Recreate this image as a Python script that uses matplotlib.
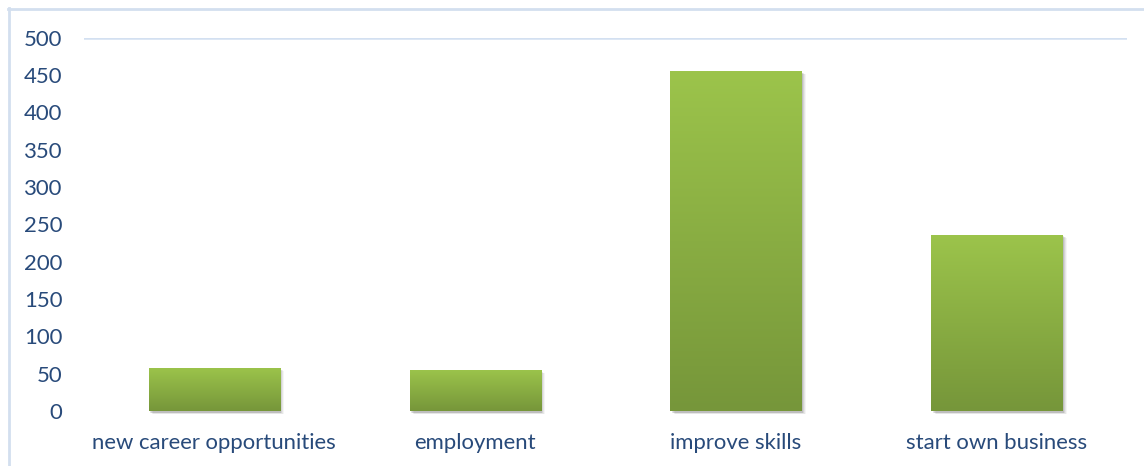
import numpy as np
import matplotlib
matplotlib.use("Agg")
import matplotlib.pyplot as plt
from matplotlib.patches import Rectangle
from matplotlib.colors import LinearSegmentedColormap
import matplotlib.transforms as mtransforms

categories = ["new career opportunities", "employment", "improve skills", "start own business"]
values = [58, 55, 455, 236]
y_ticks = [0, 50, 100, 150, 200, 250, 300, 350, 400, 450, 500]

W, H = 1144, 466
fig = plt.figure(figsize=(W / 100, H / 100), dpi=100)
fig.patch.set_facecolor("white")

# axes placed in pixel terms
left, right, top, bottom = 84, 1127, 37.5, 411
ax = fig.add_axes([left / W, 1 - bottom / H, (right - left) / W, (bottom - top) / H])
ax.set_facecolor("none")

text_color = "#284A7A"
font = ["Lato", "DejaVu Sans"]
fs = 15.9

ax.set_xlim(-0.5, len(categories) - 0.5)
ax.set_ylim(0, 500)
ax.set_yticks(y_ticks)
ax.set_yticklabels([str(t) for t in y_ticks], color=text_color, fontsize=fs, family=font)
ax.set_xticks(range(len(categories)))
ax.set_xticklabels(categories, color=text_color, fontsize=fs, family=font)
ax.tick_params(axis="both", length=0)
ax.tick_params(axis="y", pad=15.5)
ax.tick_params(axis="x", pad=15.5)
for s in ax.spines.values():
    s.set_visible(False)

# single light gridline at the top value
ax.axhline(500, color="#D3E0F1", lw=1.8, zorder=1)

cmap = LinearSegmentedColormap.from_list("g", ["#76963A", "#9CC44B"])
grad = np.linspace(0, 1, 256).reshape(-1, 1)
bar_w = 0.503

for i, v in enumerate(values):
    x0 = i - bar_w / 2
    # soft drop shadow offset down-right
    for k, a in enumerate([0.10, 0.08, 0.06, 0.04]):
        off = mtransforms.offset_copy(ax.transData, fig=fig, x=1.5 + k, y=-1.5 - k * 0.6, units="dots")
        ax.add_patch(Rectangle((x0, 0), bar_w, v, facecolor="black", alpha=a,
                               edgecolor="none", transform=off, zorder=2, clip_on=False))
    rect = Rectangle((x0, 0), bar_w, v, facecolor="none", edgecolor="none", zorder=3)
    ax.add_patch(rect)
    im = ax.imshow(grad, cmap=cmap, aspect="auto", origin="lower",
                   extent=(x0, x0 + bar_w, 0, v), zorder=3, interpolation="bilinear")
    im.set_clip_path(rect)

ax.set_xlim(-0.5, len(categories) - 0.5)
ax.set_ylim(0, 500)

# chart frame: top and left edges
fig.add_artist(plt.Line2D([8 / W, 1], [1 - 8.5 / H, 1 - 8.5 / H], color="#D3DFEF", lw=2))
fig.add_artist(plt.Line2D([8.5 / W, 8.5 / W], [1 - 8 / H, 0], color="#D3DFEF", lw=2))

fig.savefig("out.png", dpi=100, facecolor="white")
